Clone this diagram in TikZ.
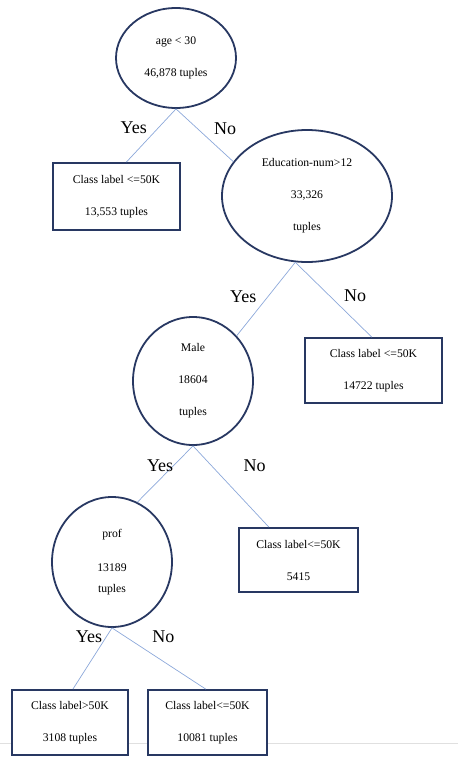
\documentclass[tikz,border=0pt]{standalone}
\usepackage{fontspec}
\setmainfont{Liberation Serif}
\newfontfamily\treefont{Liberation Serif}
\usetikzlibrary{shapes.geometric}

\definecolor{rim}{RGB}{40,56,98}
\definecolor{branch}{RGB}{140,168,218}

\begin{document}
\begin{tikzpicture}[x=1pt,y=-1pt,line width=0.7pt]
	\tikzstyle{split}=[ellipse,draw=rim,line width=1.8pt,fill=white,inner sep=0pt,align=center,
	                   font=\treefont\fontsize{11.7}{14}\selectfont]
	\tikzstyle{leaf}=[rectangle,draw=rim,line width=1.8pt,fill=white,inner sep=0pt,align=center,
	                  font=\treefont\fontsize{11.7}{14}\selectfont]
	\tikzstyle{ans}=[inner sep=0pt,font=\treefont\fontsize{18}{20}\selectfont]
	\tikzstyle{every edge}=[draw=branch,line width=0.7pt]

	\useasboundingbox (0,0) rectangle (458,757);
	\draw[black!12] (0,743) -- (458,743);

	\node[split,minimum width=120pt,minimum height=100pt] (age)  at (176,58)    {age < 30\\[18pt]46,878 tuples};
	\node[leaf,minimum width=127pt,minimum height=67pt]   (c1)   at (116.5,196.5) {Class label <=50K\\[18pt]13,553 tuples};
	\node[split,minimum width=170pt,minimum height=132pt] (edu)  at (307,196)   {Education-num>12\\[18pt]33,326\\[18pt]tuples};
	\node[leaf,minimum width=137pt,minimum height=65pt]   (c2)   at (373.5,370.5) {Class label <=50K\\[18pt]14722 tuples};
	\node[split,minimum width=120pt,minimum height=128pt] (male) at (193,381)   {Male\\[18pt]18604\\[18pt]tuples};
	\node[leaf,minimum width=119pt,minimum height=64pt]   (c3)   at (298.5,560) {Class label<=50K\\[18pt]5415};
	\node[split,minimum width=120pt,minimum height=130pt] (prof) at (112,562)   {prof\\[20pt]13189\\[7pt]tuples};
	\node[leaf,minimum width=116pt,minimum height=65pt]   (c4)   at (70,722.5)  {Class label>50K\\[18pt]3108 tuples};
	\node[leaf,minimum width=119pt,minimum height=65pt]   (c5)   at (207.5,722.5) {Class label<=50K\\[18pt]10081 tuples};

	\path (age.south)  edge node[ans,pos=0.36,left=11pt]  {Yes} (c1.74)
	      (age.south)  edge node[ans,pos=0.38,right=16pt] {No}  (edu.155)
	      (edu.260)    edge node[ans,pos=0.47,left=11pt]  {Yes} (male.46)
	      (edu.260)    edge node[ans,pos=0.45,right=14pt] {No}  (c2.93)
	      (male.south) edge node[ans,pos=0.35,left=0pt]   {Yes} (prof.67)
	      (male.south) edge node[ans,pos=0.24,right=32pt] {No}  (c3.132)
	      (prof.south) edge node[ans,pos=0.14,left=4pt]   {Yes} (c4.85)
	      (prof.south) edge node[ans,pos=0.14,right=27pt] {No}  (c5.93);
\end{tikzpicture}
\end{document}
